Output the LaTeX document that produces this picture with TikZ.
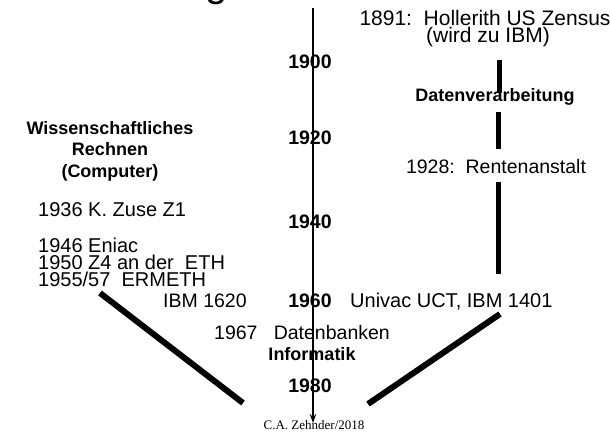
\documentclass[tikz,border=0pt]{standalone}
\usepackage{fontspec}
\setmainfont{Liberation Sans}
\newfontfamily\seriffont{Liberation Serif}
\usetikzlibrary{arrows.meta}
\begin{document}
\begin{tikzpicture}[x=1pt,y=-1pt,
  txt/.style={inner sep=0pt, anchor=base, font=\fontsize{19.5}{22}\selectfont},
  txtl/.style={txt, anchor=base west},
  txtm/.style={inner sep=0pt, anchor=base west, font=\fontsize{20}{22}\selectfont},
  wide/.style={inner sep=0pt, anchor=base, font=\fontsize{21}{23}\selectfont},
  hdr/.style={inner sep=0pt, anchor=base, font=\fontsize{18}{21}\selectfont\bfseries},
  yearlbl/.style={inner sep=0pt, anchor=base, font=\fontsize{19.5}{22}\selectfont\bfseries},
  barline/.style={line width=5pt},
  branch/.style={line width=6pt},
  axisline/.style={line width=1.8pt, -{Stealth[length=9pt,width=6.5pt]}},
]
\useasboundingbox (0,0) rectangle (610,435);
% cut-off title
\node[inner sep=0pt, anchor=base, font=\fontsize{40}{44}\selectfont] (title) at (217,-3) {g};
% time axis
\coordinate (axtop) at (313,8);
\coordinate (axbot) at (313,423);
\draw[axisline] (axtop) -- (axbot);
% years
\node[yearlbl] (y1900) at (310,69) {1900};
\node[yearlbl] (y1920) at (310,145) {1920};
\node[yearlbl] (y1940) at (310,229) {1940};
\node[yearlbl] (y1960) at (310,308) {1960};
\node[yearlbl] (y1980) at (310,392) {1980};
% right column
\node[wide] (holl) at (485,26) {1891:\ \ Hollerith US Zensus};
\node[wide] (ibm) at (488,43) {(wird zu IBM)};
\node[hdr] (dv) at (495,102) {Datenverarbeitung};
\node[txt] (rent) at (496,174) {1928:\ \ Rentenanstalt};
\node[txtm] (univac) at (350,308) {Univac UCT, IBM 1401};
\coordinate (b1t) at (499,60);
\coordinate (b1b) at (499,93);
\coordinate (b2t) at (498,112);
\coordinate (b2b) at (498,149);
\coordinate (b3t) at (498,182);
\coordinate (b3b) at (498,274);
\draw[barline] (b1t) -- (b1b);
\draw[barline] (b2t) -- (b2b);
\draw[barline] (b3t) -- (b3b);
% left column
\node[hdr] (wiss) at (110,135) {Wissenschaftliches};
\node[hdr] (rech) at (110,156) {Rechnen};
\node[hdr] (comp) at (110,178) {(Computer)};
\node[txtm] (zuse) at (38,217) {1936 K. Zuse Z1};
\node[txtm] (eniac) at (38,253) {1946 Eniac};
\node[txtm] (zvier) at (38,270) {1950 Z4 an der\ \ ETH};
\node[txtm] (ermeth) at (38,287) {1955/57\ \ ERMETH};
\node[txtl] (ibmsix) at (163,308) {IBM 1620};
% centre
\node[txtl] (dbank) at (214,339) {1967\ \ \ Datenbanken};
\node[hdr] (inf) at (312,360) {Informatik};
\node[inner sep=0pt, anchor=base, font=\seriffont\fontsize{13}{15}\selectfont] (author) at (314,429) {C.A. Zehnder/2018};
% converging branches
\coordinate (lt) at (100,293);
\coordinate (lb) at (243,403);
\coordinate (rt) at (500,314);
\coordinate (rb) at (368,404);
\draw[branch] (lt) -- (lb);
\draw[branch] (rt) -- (rb);
\end{tikzpicture}
\end{document}
